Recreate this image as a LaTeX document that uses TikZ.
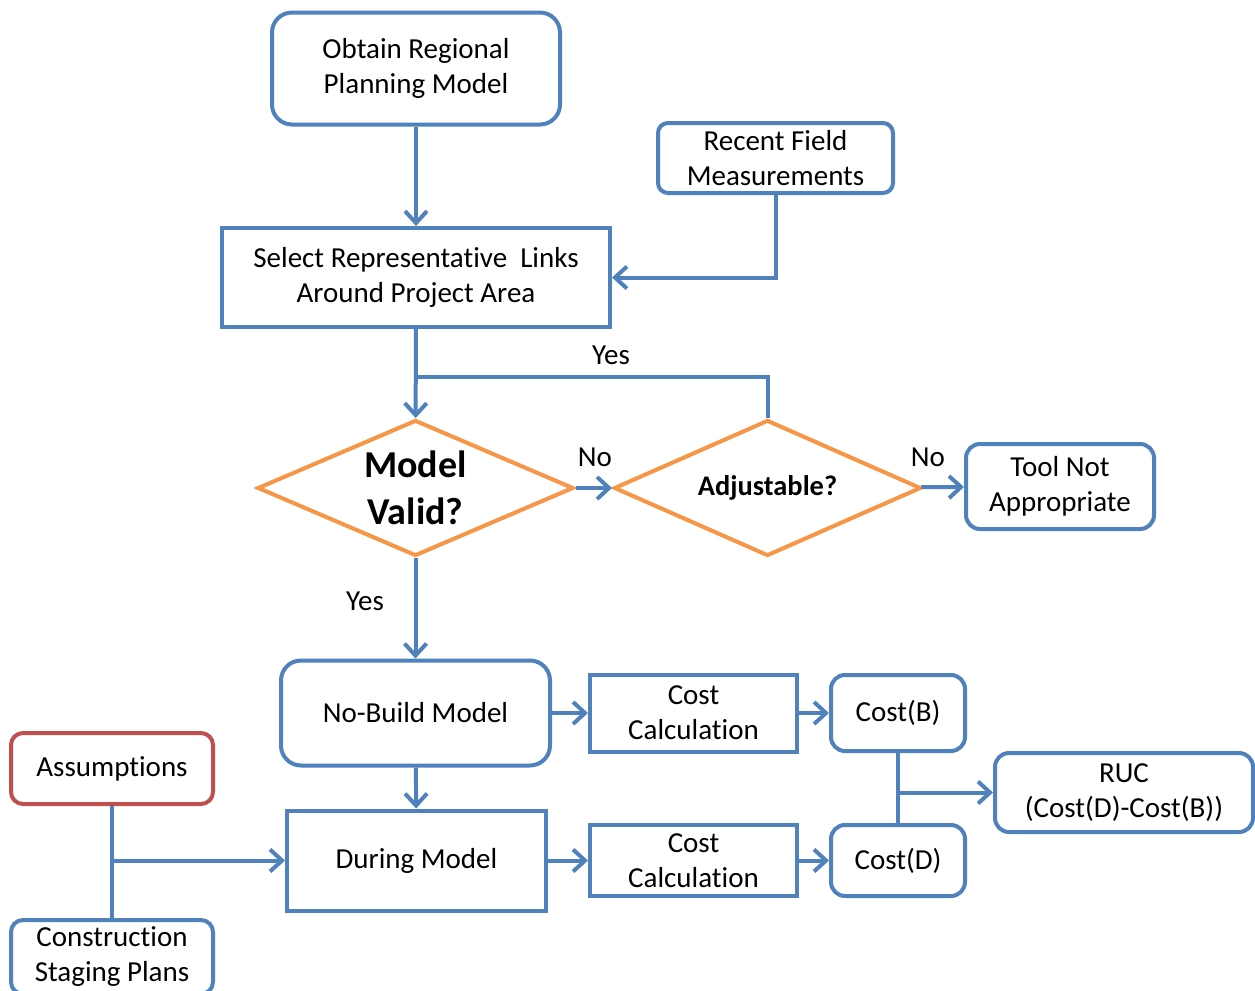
\documentclass[tikz,border=0pt]{standalone}
\usepackage{fontspec}
\setmainfont{Carlito}[Ligatures=NoCommon]
\usetikzlibrary{shapes.geometric,arrows.meta}
\definecolor{boxblue}{RGB}{79,129,189}
\definecolor{diaorange}{RGB}{247,150,70}
\definecolor{boxred}{RGB}{192,80,77}
\begin{document}
\begin{tikzpicture}
[x=0.5pt,y=-0.5pt,
  boxdecorate/.style={shape=rectangle,draw=boxblue,line width=2pt,inner sep=0pt,%
    align=center,font=\fontsize{14.5}{17.5}\selectfont},%
  rounddecorate/.style={boxdecorate,rounded corners=#1},%
  rounddecorate/.default=9pt,%
  diadecorate/.style={shape=diamond,draw=diaorange,line width=2pt,inner sep=0pt,%
    shape aspect=2.3,align=center,minimum width=158pt,minimum height=68pt},%
  linedecorate/.style={-,draw=boxblue,line width=2pt},%
  arrowdecorate/.style={linedecorate,-{Straight Barb[length=6pt,width=11pt,line width=2pt]}},%
  labeldecorate/.style={font=\fontsize{14.5}{17}\selectfont}]
\useasboundingbox (0,0) rectangle (1255,991);
%% nodes or boxes
\node (obtain) at (416,68.5) [rounddecorate=10pt,minimum width=144pt,minimum height=56pt]
  {Obtain Regional\\Planning Model};
\node (select) at (416,277.5) [boxdecorate,minimum width=194pt,minimum height=49.5pt]
  {Select Representative\ \ Links\\Around Project Area};
\node (recent) at (775.5,158) [rounddecorate=5pt,minimum width=117.5pt,minimum height=35pt]
  {Recent Field\\Measurements};
\node (valid) at (415.5,488) [diadecorate,font=\fontsize{19}{23.5}\selectfont\bfseries]
  {Model\\Valid?};
\node (adjust) at (767.5,488) [diadecorate,minimum width=153.5pt,font=\fontsize{14.2}{17}\selectfont\bfseries]
  {Adjustable?};
\node (tool) at (1060,486.5) [rounddecorate=7pt,minimum width=94pt,minimum height=42.5pt]
  {Tool Not\\Appropriate};
\node (nobuild) at (415.5,713) [rounddecorate=10pt,minimum width=134.5pt,minimum height=52.5pt]
  {No-Build Model};
\node (during) at (416.5,860.5) [boxdecorate,minimum width=129.5pt,minimum height=50pt]
  {During Model};
\node (calcb) at (693.5,713) [boxdecorate,minimum width=103.5pt,minimum height=38.5pt]
  {Cost\\Calculation};
\node (calcd) at (693.5,860.5) [boxdecorate,minimum width=103.5pt,minimum height=35.5pt]
  {Cost\\Calculation};
\node (costb) at (898,713) [rounddecorate=7pt,minimum width=67pt,minimum height=38pt]
  {Cost(B)};
\node (costd) at (898,860.5) [rounddecorate=7pt,minimum width=67pt,minimum height=35.5pt]
  {Cost(D)};
\node (ruc) at (1124,792.5) [rounddecorate=7pt,minimum width=129pt,minimum height=39.5pt]
  {RUC\\(Cost(D)-Cost(B))};
\node (assume) at (112,768.5) [rounddecorate=6pt,draw=boxred,minimum width=101pt,minimum height=35.5pt]
  {Assumptions};
\node (staging) at (112,957) [rounddecorate=6pt,minimum width=101pt,minimum height=37pt]
  {Construction\\Staging Plans};
%% junction points
\coordinate (yesjoin) at (416,377);
\coordinate (rucjoin) at (898,792.5);
\coordinate (assumejoin) at (112,860.5);
%% straight arrows
\path
\foreach \startnode/\endnode in {obtain/select, select/valid, valid/adjust,
  adjust/tool, valid/nobuild, nobuild/during, nobuild/calcb, calcb/costb,
  during/calcd, calcd/costd, rucjoin/ruc, assumejoin/during}
{
  (\startnode) edge[arrowdecorate] (\endnode)
};
%% bent lines
\draw[arrowdecorate] (recent.south) |- (select.east);
\draw[linedecorate] (adjust.north) |- (yesjoin);
\draw[linedecorate] (costb.south) -- (costd.north);
\draw[linedecorate] (assume.south) -- (staging.north);
%% labels
\node (yestop) at (611,355) [labeldecorate] {Yes};
\node (novalid) at (595,457) [labeldecorate] {No};
\node (noadjust) at (928,457) [labeldecorate] {No};
\node (yesvalid) at (365,601) [labeldecorate] {Yes};
\end{tikzpicture}
\end{document}
